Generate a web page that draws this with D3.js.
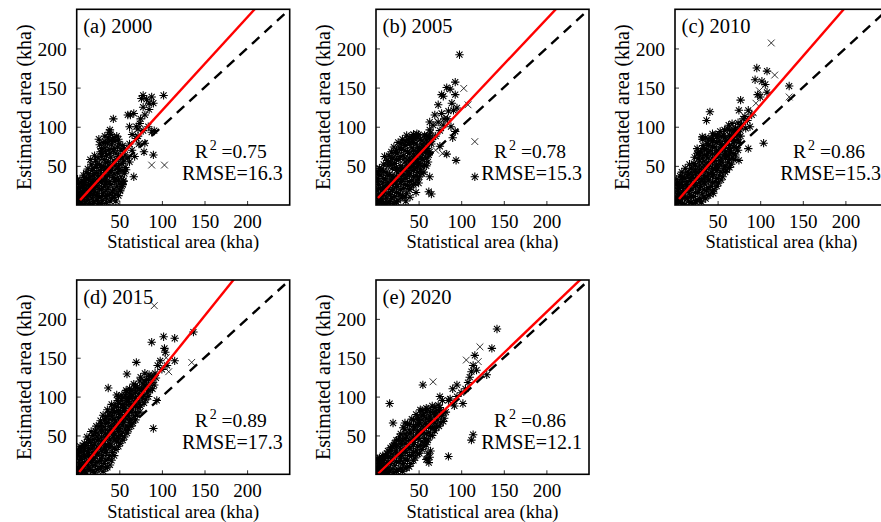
<!DOCTYPE html>
<html><head><meta charset="utf-8">
<script src="https://cdn.jsdelivr.net/npm/d3@7"></script>
<style>body{margin:0;background:#fff}svg{display:block}</style>
</head><body>
<script>
// Panel metadata
const years = ["2000", "2005", "2010", "2015", "2020"];
const panelTags = ["(a)", "(b)", "(c)", "(d)", "(e)"];
const r2Values = ["0.75", "0.78", "0.86", "0.89", "0.86"];
const rmseValues = ["16.3", "15.3", "15.3", "17.3", "12.1"];
// Fitted regression lines (estimated = slope * statistical + intercept)
const fitSlopes = [1.19, 1.155, 1.254, 1.365, 1.052];
const fitIntercepts = [1.5, 6.3, 1.7, -1, -1.8];
const fitStarts = [4, 2.3, 4.7, 3, 2.7];
const xTicks = [50, 100, 150, 200];
const yTicks = [50, 100, 150, 200];
const axisMax = 250;

// County points: [statistical kha, estimated kha, marker] (marker 1 = "x", otherwise "*")
const points2000 = [
[1,3],[2,9],[1,15],[3,21],[2,27],[1,33],[4,5],[4,13],
[6,2],[5,18],[7,24],[6,31],[8,38],[7,10],[8,16],
[10,4],[11,11],[12,19],[10,26],[12,33],[11,41],[13,46],[13,7],
[15,2],[16,14],[15,22],[17,29],[16,36],[18,44],[17,52],[18,9],[16,58],
[20,5],[21,17],[22,25],[20,33],[21,40],[23,48],[22,56],[21,63],[23,12],
[25,2],[26,10],[27,20],[25,28],[26,37],[28,44],[27,52],[25,60],[28,68],[27,77],[26,84],
[30,6],[31,15],[32,24],[30,32],[33,41],[31,49],[32,58],[30,66],[33,73],[31,80],[33,88],
[35,3],[36,12],[37,22],[35,30],[38,38],[36,47],[37,55],[35,63],[38,71],[36,79],[37,86],[38,93],
[41,8],[42,17],[40,26],[43,35],[41,44],[42,52],[40,61],[43,69],[41,77],[42,84],[40,90],
[46,5],[45,14],[47,24],[46,33],[48,41],[45,50],[47,58],[46,66],[48,74],[45,81],[47,88],
[51,18],[50,27],[52,36],[50,45],[53,53],[51,62],[52,70],[50,78],
[55,30],[56,40],[57,48],[55,56],[57,64],[56,72],
[3,1],[3,11],[2,22],[5,28],[9,1],[9,13],[9,21],[9,29],[9,35],[14,12],[14,19],[14,26],[14,33],[14,40],
[19,2],[19,14],[19,22],[19,30],[19,38],[19,47],[24,6],[24,15],[24,23],[24,33],[24,41],[24,52],
[29,2],[29,11],[29,20],[29,29],[29,38],[29,48],[29,62],[29,72],[34,9],[34,18],[34,27],[34,36],[34,45],[34,54],[34,68],[34,80],
[39,5],[39,15],[39,30],[39,42],[39,50],[39,66],[39,82],[44,10],[44,20],[44,30],[44,40],[44,56],[44,72],[44,86],
[49,12],[49,32],[49,50],[49,62],[49,84],[54,26],[54,44],[54,60],[54,76],
[43,110],[39,96],[60,115],[63,115],[67,117],[70,100],[72,97],[74,104],[62,100],[65,90],
[78,140],[76,136],[88,138],[90,130],[102,140],[78,125],[85,122],[80,115],[88,93],[91,95],
[80,79],[79,68],[90,64],[88,51,1],[103,51,1],[67,36],[51,19],[53,24],[55,31],[75,110],
[70,85],[62,78],[60,60],[65,70],[72,88],[58,45],[62,55],[84,100],[78,95],[73,78],[68,62],[85,130],[82,135]
];
const points2005 = [
[1,2],[2,10],[1,18],[3,26],[2,34],[1,42],[4,47],[4,6],[3,14],
[6,3],[7,12],[5,21],[8,29],[6,38],[7,46],[9,52],[8,20],
[11,1],[12,9],[10,17],[13,25],[11,33],[12,42],[14,50],[13,57],[10,62],
[16,4],[17,13],[15,22],[18,31],[16,39],[19,47],[17,55],[15,63],[18,68],
[21,2],[22,11],[20,20],[23,28],[21,36],[24,44],[22,53],[20,60],[23,67],[21,74],
[26,6],[27,15],[25,24],[28,33],[26,41],[29,50],[27,58],[25,66],[28,73],[26,80],
[31,12],[32,21],[30,30],[33,39],[31,47],[34,55],[32,63],[30,71],[33,78],[31,84],
[36,15],[37,25],[35,34],[38,43],[36,51],[39,60],[37,68],[35,76],[38,83],[36,89],
[41,22],[42,31],[40,40],[43,49],[41,57],[44,65],[42,73],[40,80],[43,87],[44,90],
[46,28],[47,37],[45,46],[48,54],[46,62],[49,70],[47,78],[45,85],[48,91],
[51,36],[52,45],[50,53],[53,61],[51,69],[54,77],[52,84],[50,90],
[56,42],[57,51],[55,59],[58,67],[56,75],[59,83],[57,89],
[61,55],[62,64],[60,72],[63,80],[61,88],[65,78],[66,84],[64,92],
[2,4],[3,21],[2,30],[3,39],[5,8],[5,44],[9,3],[9,15],[9,24],[9,34],[9,43],
[14,4],[14,14],[14,29],[14,38],[14,54],[19,8],[19,18],[19,26],[19,36],[19,52],[19,60],
[24,4],[24,16],[24,24],[24,33],[24,48],[24,58],[24,70],[29,9],[29,20],[29,28],[29,38],[29,45],[29,62],[29,78],
[34,10],[34,26],[34,34],[34,44],[34,60],[34,70],[34,82],[39,20],[39,30],[39,38],[39,48],[39,56],[39,66],[39,78],[39,86],
[44,26],[44,36],[44,44],[44,54],[44,60],[44,70],[44,80],[49,33],[49,42],[49,50],[49,58],[49,66],[49,74],[49,86],
[54,40],[54,50],[54,58],[54,66],[54,72],[54,82],[59,50],[59,60],[59,70],[59,78],[59,88],[63,68],[63,86],
[98,192],[93,157],[103,149,1],[83,150],[87,148],[93,141],[77,141],[79,139],[73,128],[89,130],
[91,121],[95,124],[108,128,1],[69,115],[77,117],[63,106],[73,106],[67,102],[79,102],[63,96],
[44,90],[44,86],[93,94],[90,86],[116,81,1],[83,65],[94,57],[63,36],[62,17],[65,14],
[47,16],[116,36],[70,88],[75,95],[80,110],[85,120],[70,70,1],[75,75],[78,66,1],[88,100],
[84,110],[40,10],[50,28],[35,5]
];
const points2010 = [
[1,2],[2,10],[3,18],[1,26],[2,33],[4,6],[4,22],
[6,3],[7,13],[5,21],[8,29],[6,37],[9,9],[8,42],
[11,1],[12,10],[10,18],[13,26],[11,34],[14,42],[12,47],
[16,5],[17,14],[15,23],[18,31],[16,39],[19,47],[17,52],
[21,2],[22,11],[20,20],[23,29],[21,37],[24,45],[22,53],[23,61],
[26,6],[27,16],[25,25],[28,34],[26,42],[29,51],[27,59],[28,67],[26,72],
[31,4],[32,14],[30,24],[33,33],[31,42],[34,51],[32,60],[30,68],[33,76],[32,84],
[36,8],[37,18],[35,27],[38,36],[36,45],[39,54],[37,63],[35,71],[38,79],[36,86],
[41,14],[42,24],[40,33],[43,42],[41,51],[44,60],[42,69],[40,77],[43,85],[44,91],
[46,20],[47,30],[45,39],[48,48],[46,57],[49,66],[47,74],[45,82],[48,90],
[51,28],[52,38],[50,47],[53,56],[51,65],[54,74],[52,82],[50,89],[53,94],
[56,36],[57,46],[55,55],[58,64],[56,73],[59,81],[57,89],[58,96],
[61,45],[62,54],[60,63],[63,72],[61,81],[64,89],[62,97],[63,102],
[66,52],[67,61],[65,70],[68,79],[66,88],[69,96],[67,104],
[71,64],[72,73],[70,82],[73,90],[71,98],[75,80],[77,88],[76,96],[78,103],[74,105],
[2,6],[3,14],[3,29],[5,10],[5,26],[7,33],[9,2],[9,16],[9,24],[9,36],[14,8],[14,21],[14,30],[14,37],
[19,3],[19,11],[19,26],[19,35],[19,42],[24,5],[24,16],[24,25],[24,34],[24,40],[24,50],
[29,8],[29,20],[29,29],[29,38],[29,46],[29,56],[29,63],[34,10],[34,20],[34,29],[34,38],[34,46],[34,56],[34,64],[34,72],
[39,12],[39,22],[39,31],[39,40],[39,49],[39,60],[39,68],[39,76],[39,84],[44,18],[44,28],[44,37],[44,47],[44,55],[44,65],[44,74],[44,82],
[49,24],[49,34],[49,44],[49,52],[49,61],[49,70],[49,80],[49,87],[54,32],[54,42],[54,51],[54,60],[54,69],[54,78],[54,88],
[59,42],[59,50],[59,60],[59,68],[59,76],[59,86],[64,48],[64,58],[64,66],[64,76],[64,84],[64,96],
[69,58],[69,66],[69,74],[69,84],[69,92],[74,70],[74,84],[74,94],[77,100],
[113,207,1],[96,175],[108,171],[117,166,1],[94,160],[102,158],[106,154],[97,141],[99,146,1],[108,144],
[134,152],[134,138,1],[77,134],[75,121],[41,119],[37,108],[86,121],[90,115],[82,113],[32,87],
[104,79],[86,72],[75,57],[45,15],[26,66],[85,108],[92,118,1],[95,130,1],[100,138],[88,100],
[80,110],[83,98]
];
const points2015 = [
[1,2],[2,9],[3,17],[1,24],[2,31],[4,36],[4,5],
[6,2],[7,11],[5,19],[8,27],[6,34],[9,40],[8,6],
[11,3],[12,12],[10,21],[13,29],[11,37],[14,45],[12,48],
[16,6],[17,15],[15,24],[18,33],[16,41],[19,50],[17,55],
[21,2],[22,12],[20,21],[23,30],[21,39],[24,48],[22,56],[23,62],
[26,7],[27,17],[25,27],[28,36],[26,45],[29,54],[27,62],[28,69],
[31,4],[32,14],[30,24],[33,34],[31,43],[34,52],[32,61],[33,70],[31,76],
[36,9],[37,20],[35,30],[38,40],[36,49],[39,58],[37,67],[38,76],[36,83],
[41,18],[42,28],[40,38],[43,48],[41,57],[44,66],[42,75],[43,84],[41,90],
[46,32],[47,42],[45,51],[48,60],[46,69],[49,78],[47,87],[48,95],
[51,40],[52,50],[50,59],[53,68],[51,77],[54,86],[52,95],[53,102],
[56,48],[57,58],[55,67],[58,76],[56,85],[59,94],[57,102],[58,108],
[61,58],[62,67],[60,76],[63,85],[61,94],[64,103],[62,110],
[66,66],[67,75],[65,84],[68,93],[66,102],[69,111],[67,116],
[71,76],[72,86],[70,95],[73,104],[71,112],[75,88],[77,98],[76,108],[78,116],[74,120],
[81,96],[83,105],[80,114],[82,122],[86,108],[88,118],[87,126],[91,115],[93,124],[92,130],
[2,5],[3,13],[3,28],[5,9],[5,23],[5,31],[9,4],[9,15],[9,23],[9,31],[9,36],[14,9],[14,17],[14,25],[14,33],[14,41],
[19,4],[19,11],[19,20],[19,28],[19,37],[19,45],[24,6],[24,16],[24,25],[24,35],[24,43],[24,53],
[29,10],[29,20],[29,30],[29,40],[29,48],[29,58],[29,65],[34,8],[34,18],[34,28],[34,38],[34,47],[34,57],[34,66],[34,74],
[39,12],[39,24],[39,34],[39,45],[39,53],[39,62],[39,71],[39,80],[44,24],[44,34],[44,44],[44,53],[44,62],[44,71],[44,80],[44,88],
[49,36],[49,46],[49,55],[49,64],[49,73],[49,82],[49,91],[49,100],[54,44],[54,54],[54,63],[54,72],[54,81],[54,90],[54,98],
[59,53],[59,62],[59,71],[59,80],[59,89],[59,98],[59,106],[64,62],[64,71],[64,80],[64,90],[64,98],[64,108],
[69,70],[69,80],[69,88],[69,98],[69,106],[69,114],[74,80],[74,92],[74,100],[74,110],
[79,92],[79,102],[79,110],[79,120],[84,100],[84,114],[84,122],[89,110],[89,124],
[91,217,1],[102,177],[115,175],[88,170],[137,183],[103,162],[104,157],[105,150,1],[70,144],[59,129],
[115,146],[135,144,1],[98,146],[95,140],[80,130],[37,111],[47,102],[94,95],[90,59],[100,135],
[106,140],[108,132,1],[85,128],[62,100],[44,80],[75,125]
];
const points2020 = [
[1,2],[2,9],[3,16],[4,21],[4,4],
[6,2],[7,10],[5,17],[8,24],[9,6],
[11,3],[12,12],[10,20],[13,27],[14,8],
[16,4],[17,14],[15,23],[18,31],[19,36],
[21,2],[22,11],[20,21],[23,30],[21,38],[24,44],
[26,6],[27,16],[25,26],[28,35],[26,44],[29,52],
[31,4],[32,14],[30,24],[33,33],[31,43],[34,52],[32,60],
[36,8],[37,18],[35,28],[38,38],[36,48],[39,57],[37,65],
[41,14],[42,24],[40,34],[43,44],[41,54],[44,63],[42,71],
[46,21],[47,31],[45,41],[48,51],[46,61],[49,70],[47,77],
[51,27],[52,37],[50,47],[53,57],[51,67],[54,76],[52,83],
[56,36],[57,46],[55,56],[58,66],[56,76],[59,85],
[61,44],[62,54],[60,64],[63,74],[61,84],[66,50],[67,60],[65,70],[68,80],[66,88],
[71,60],[72,70],[70,80],[73,89],[76,66],[77,76],[75,86],[80,72],[82,80],
[2,5],[3,12],[2,20],[5,7],[5,14],[7,20],[9,2],[9,11],[9,17],[11,24],[14,3],[14,15],[14,22],[14,30],
[19,7],[19,18],[19,26],[17,34],[24,4],[24,16],[24,25],[24,36],[22,40],[29,8],[29,20],[29,30],[29,40],[28,48],
[34,8],[34,20],[34,30],[34,40],[34,46],[34,58],[39,10],[39,24],[39,33],[39,44],[39,52],[39,64],
[44,18],[44,28],[44,38],[44,48],[44,58],[44,70],[49,26],[49,36],[49,46],[49,56],[49,64],[49,74],
[54,32],[54,42],[54,52],[54,62],[54,70],[54,82],[59,42],[59,52],[59,62],[59,72],[59,80],
[64,50],[64,60],[64,68],[64,80],[69,56],[69,66],[69,76],[69,86],[74,62],[74,76],[74,82],[79,68],[79,80],
[142,187],[122,164,1],[136,162],[116,153],[106,147,1],[112,132],[118,134],[130,128],[114,140],[110,125],
[55,115],[67,119,1],[16,91],[20,66],[87,97],[102,91],[34,66],[59,38],[59,19],[61,27],
[63,22],[85,23],[114,51],[112,44],[90,110],[95,100],[100,105],[92,88],[105,110],[108,118],
[78,95],[75,100],[85,95],[120,145,1],[95,115],[60,20],[62,15],[64,30]
];
const pointSets = [points2000, points2005, points2010, points2015, points2020];

// Layout
const W = 881, H = 522;
const plotW = 213;
const panels = [
  {left: 76.7, top: 9.3, h: 195.7},
  {left: 376, top: 9.3, h: 195.7},
  {left: 675, top: 9.3, h: 195.7},
  {left: 76.7, top: 280, h: 194.3},
  {left: 376, top: 280, h: 194.3}
];
const FONT = "'Liberation Serif','Times New Roman',serif";

const svg = d3.select("body").append("svg")
  .attr("width", W).attr("height", H)
  .style("font-family", FONT);
svg.append("rect").attr("width", W).attr("height", H).attr("fill", "#fff");

const starPath = "M-4.2,0H4.2M0,-4.2V4.2M-3,-3L3,3M-3,3L3,-3";
const crossPath = "M-3.4,-3.4L3.4,3.4M-3.4,3.4L3.4,-3.4";

panels.forEach((p, i) => {
  const x = d3.scaleLinear().domain([0, axisMax]).range([0, plotW]);
  const y = d3.scaleLinear().domain([0, axisMax]).range([p.h, 0]);
  const g = svg.append("g").attr("transform", `translate(${p.left},${p.top})`);

  const clipId = "clip" + i;
  g.append("clipPath").attr("id", clipId)
    .append("rect").attr("width", plotW).attr("height", p.h);

  // Ticks (inside, bottom and left)
  const xAxis = d3.axisBottom(x).tickValues(xTicks).tickSizeInner(-4).tickSizeOuter(0).tickFormat(d3.format("d"));
  const gx = g.append("g").attr("transform", `translate(0,${p.h})`).call(xAxis);
  gx.select(".domain").remove();
  gx.selectAll(".tick line").attr("stroke", "#333").attr("stroke-width", 1);
  gx.selectAll(".tick text").attr("y", 22.8).attr("dy", 0)
    .attr("font-size", 19).attr("font-family", FONT).attr("fill", "#000");

  const yAxis = d3.axisLeft(y).tickValues(yTicks).tickSizeInner(-4).tickSizeOuter(0).tickFormat(d3.format("d"));
  const gy = g.append("g").call(yAxis);
  gy.select(".domain").remove();
  gy.selectAll(".tick line").attr("stroke", "#333").attr("stroke-width", 1);
  gy.selectAll(".tick text").attr("x", -10).attr("dy", "0.34em")
    .attr("font-size", 19.5).attr("font-family", FONT).attr("fill", "#000");

  const inner = g.append("g").attr("clip-path", `url(#${clipId})`);

  // 1:1 reference line
  inner.append("line")
    .attr("x1", x(0)).attr("y1", y(0)).attr("x2", x(axisMax)).attr("y2", y(axisMax))
    .attr("stroke", "#000").attr("stroke-width", 2.4).attr("stroke-dasharray", "10,7");

  // Scatter markers
  inner.append("g").selectAll("path").data(pointSets[i]).join("path")
    .attr("transform", d => `translate(${x(d[0])},${y(d[1])})`)
    .attr("d", d => d[2] === 1 ? crossPath : starPath)
    .attr("fill", "none").attr("stroke", "#000")
    .attr("stroke-width", d => d[2] === 1 ? 0.8 : 1.05);

  // Regression fit line
  const x0 = fitStarts[i], x1 = axisMax;
  inner.append("line")
    .attr("x1", x(x0)).attr("y1", y(fitSlopes[i] * x0 + fitIntercepts[i]))
    .attr("x2", x(x1)).attr("y2", y(fitSlopes[i] * x1 + fitIntercepts[i]))
    .attr("stroke", "#f00").attr("stroke-width", 2.4);

  // Frame
  g.append("rect").attr("width", plotW).attr("height", p.h)
    .attr("fill", "none").attr("stroke", "#000").attr("stroke-width", 1.6);

  // Panel tag
  g.append("text").attr("x", 6.6).attr("y", 24)
    .attr("font-size", 20.5).text(`${panelTags[i]} ${years[i]}`);

  // Statistics
  const r2 = g.append("text").attr("x", 118).attr("y", p.h - 47).attr("font-size", 19.5);
  r2.append("tspan").text("R");
  r2.append("tspan").attr("dx", 2).attr("dy", -8).attr("font-size", 14).text("2");
  r2.append("tspan").attr("dy", 8).text(" =" + r2Values[i]);
  g.append("text").attr("x", plotW - 7).attr("y", p.h - 25).attr("text-anchor", "end")
    .attr("font-size", 20).text("RMSE=" + rmseValues[i]);

  // Axis titles
  g.append("text").attr("x", plotW / 2).attr("y", p.h + 43.5).attr("text-anchor", "middle")
    .attr("font-size", 18.5).text("Statistical area (kha)");
  g.append("text").attr("transform", `translate(-45.7,${p.h / 2}) rotate(-90)`)
    .attr("text-anchor", "middle").attr("font-size", 20).text("Estimated area (kha)");
});
</script>
</body></html>
